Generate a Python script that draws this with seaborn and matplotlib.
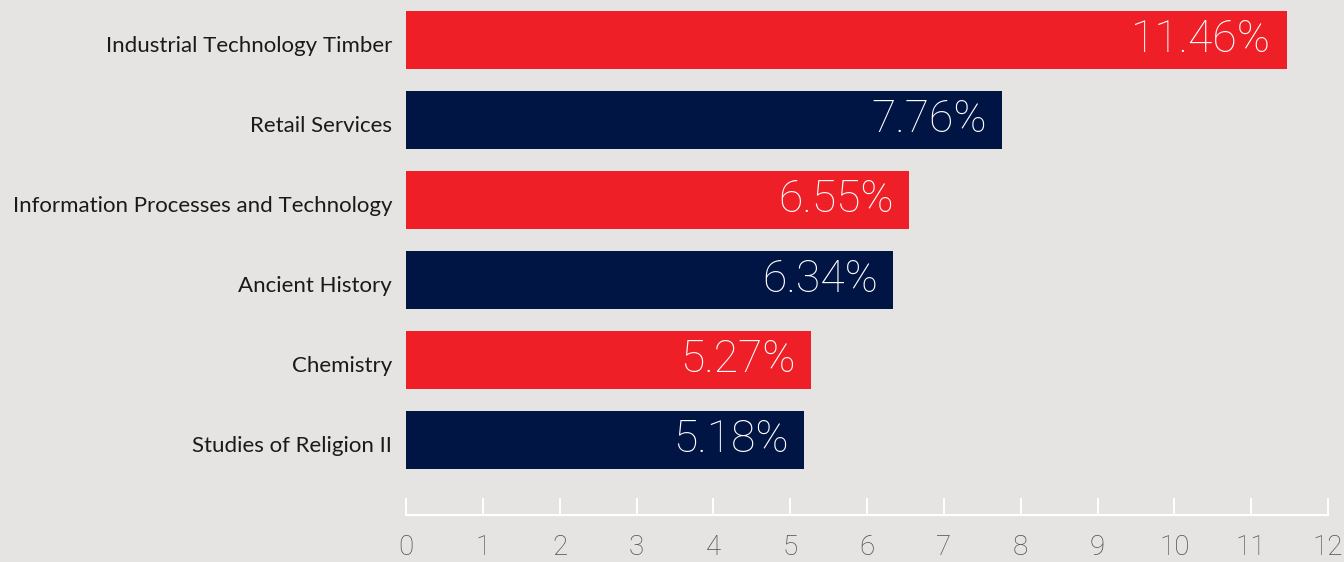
import pandas as pd
import matplotlib.pyplot as plt
import matplotlib.transforms as mtransforms
import seaborn as sns

subjects = [
    'Industrial Technology Timber',
    'Retail Services',
    'Information Processes and Technology',
    'Ancient History',
    'Chemistry',
    'Studies of Religion II'
]
values = [11.46, 7.76, 6.55, 6.34, 5.27, 5.18]
bar_colors = ['#ee1f26', '#011545', '#ee1f26', '#011545', '#ee1f26', '#011545']
x_ticks = list(range(0, 13))

bg = '#e6e4e2'

df = pd.DataFrame({'subject': subjects, 'value': values})

sns.set_style('white')
plt.rcParams['font.family'] = ['Lato', 'DejaVu Sans']

fig = plt.figure(figsize=(13.44, 5.62), dpi=100, facecolor=bg)
ax = fig.add_axes([406 / 1344, 47 / 562, 922 / 1344, 515 / 562])
ax.set_facecolor(bg)

sns.barplot(
    data=df,
    x='value',
    y='subject',
    hue='subject',
    palette=bar_colors,
    orient='h',
    width=0.725,
    legend=False,
    saturation=1,
    linewidth=0,
    ax=ax
)

# value labels inside the bar ends
for container in ax.containers:
    labels = ax.bar_label(
        container,
        labels=[f'{v:.2f}%' for v in container.datavalues],
        padding=-11,
        color='white',
        fontsize=32,
        fontfamily=['Roboto', 'DejaVu Sans'],
        fontweight='light'
    )
    for t in labels:
        t.set_ha('right')

ax.set_xlim(0, 12)
ax.set_ylim(5.94, -0.5)
ax.set_xticks(x_ticks)
ax.set_xlabel('')
ax.set_ylabel('')

for side in ['top', 'right', 'left']:
    ax.spines[side].set_visible(False)
ax.spines['bottom'].set_color('white')
ax.spines['bottom'].set_linewidth(1.6)

ax.tick_params(axis='x', bottom=True, direction='in', length=12, width=1.4, color='white',
               pad=14, labelsize=20, labelcolor='#505050')
ax.tick_params(axis='y', left=False, length=0, pad=10, labelsize=16, labelcolor='#1a1a1a')
for t in ax.get_xticklabels():
    t.set_fontfamily(['Roboto', 'DejaVu Sans'])
    t.set_fontweight('light')

# category labels sit slightly below the bar centres
shift = mtransforms.ScaledTranslation(0, -3 / 72, fig.dpi_scale_trans)
for t in ax.get_yticklabels():
    t.set_transform(t.get_transform() + shift)

fig.savefig('out.png', dpi=100, facecolor=bg)
